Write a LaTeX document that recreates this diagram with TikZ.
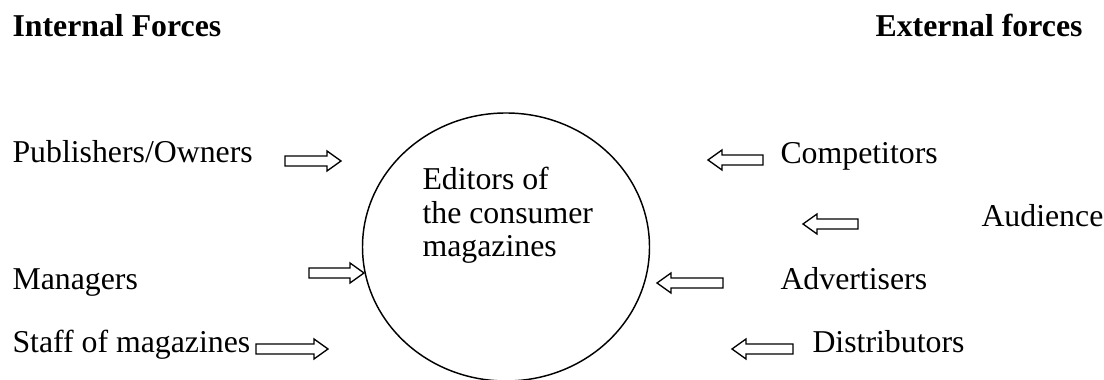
\documentclass[tikz,border=0pt]{standalone}
\usepackage{fontspec}
\setmainfont{Liberation Serif}
\usetikzlibrary{positioning}

\begin{document}
\begin{tikzpicture}[x=0.3774pt,y=-0.3774pt,
        label/.style={inner sep=0pt,anchor=base west,font=\fontsize{12}{12.8}\selectfont},
        heading/.style={label,font=\fontsize{12}{12.8}\selectfont\bfseries},
        arrowline/.style={draw=black,line width=0.5pt,fill=white},
        pics/blockarrow/.style={code={
            \draw[arrowline] (0,-5) -- ({#1-14},-5) -- ({#1-14},-10) -- (#1,0)
                -- ({#1-14},10) -- ({#1-14},5) -- (0,5) -- cycle;
        }}]
                \useasboundingbox (0,0) rectangle (1104,380);

                % headings
                \node[heading] (internal) at (12,37) {Internal Forces};
                \node[heading,anchor=base east] (external) at (1083,37) {External forces};

                % editors in the middle
                \draw[line width=0.55pt] (506,247) ellipse [x radius=143.5, y radius=134];
                \node[label,align=left] (editors) at (422,257) {Editors of\\the consumer\\magazines};

                % internal forces
                \node[label] (publishers) at (12,163) {Publishers/Owners};
                \node[label] (managers) at (12,290) {Managers};
                \node[label] (staff) at (12,353) {Staff of magazines};
                \pic (pubarrow) at (285,161) {blockarrow=56};
                \pic (mgrarrow) at (309,273) {blockarrow=55};
                \pic (staffarrow) at (256,349) {blockarrow=72};

                % external forces
                \node[label] (competitors) at (780,164) {Competitors};
                \node[label] (audience) at (981,227) {Audience};
                \node[label] (advertisers) at (780,290) {Advertisers};
                \node[label] (distributors) at (812,353) {Distributors};
                \pic[xscale=-1] (comparrow) at (763,160) {blockarrow=55};
                \pic[xscale=-1] (audarrow) at (858,224) {blockarrow=55};
                \pic[xscale=-1] (advarrow) at (723,283) {blockarrow=66};
                \pic[xscale=-1] (distarrow) at (793,349) {blockarrow=61};
            \end{tikzpicture}
\end{document}
